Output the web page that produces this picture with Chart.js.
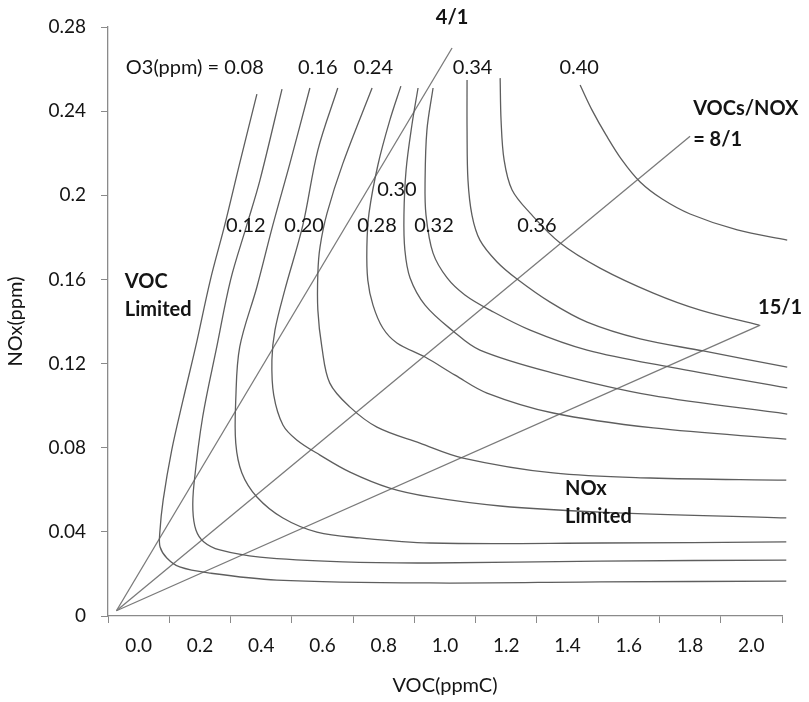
<!DOCTYPE html>
<html>
<head>
<meta charset="utf-8">
<script src="https://cdn.jsdelivr.net/npm/chart.js@4/dist/chart.umd.min.js"></script>
<style>
  html, body { margin: 0; padding: 0; background: #fff; }
  #wrap { width: 809px; height: 702px; }
</style>
</head>
<body>
<div id="wrap"><canvas id="isopleth" width="809" height="702"></canvas></div>
<script>
// axis ticks
const xTickValues = [0, 0.2, 0.4, 0.6, 0.8, 1.0, 1.2, 1.4, 1.6, 1.8, 2.0];
const xTickLabels = ['0.0','0.2','0.4','0.6','0.8','1.0','1.2','1.4','1.6','1.8','2.0'];
const yTickValues = [0, 0.04, 0.08, 0.12, 0.16, 0.2, 0.24, 0.28];
const yTickLabels = ['0','0.04','0.08','0.12','0.16','0.2','0.24','0.28'];

// ozone isopleths, points read as [VOC ppmC, NOx ppm]
const o3Levels = ['0.08','0.12','0.16','0.20','0.24','0.28','0.30','0.32','0.34','0.36','0.40'];
const iso008 = [[0.386,0.2481],[0.330,0.2153],[0.281,0.1858],[0.234,0.1597],[0.186,0.1279],[0.145,0.1027],
  [0.108,0.0789],[0.080,0.0551],[0.069,0.0395],[0.070,0.0328],[0.092,0.0276],[0.134,0.0233],[0.232,0.0204],
  [0.451,0.0171],[0.951,0.0157],[1.506,0.0162],[2.114,0.0166]];
const iso012 = [[0.468,0.2505],[0.396,0.2072],[0.353,0.1858],[0.300,0.1597],[0.255,0.1279],[0.209,0.0946],
  [0.181,0.0632],[0.177,0.0504],[0.187,0.0409],[0.213,0.0352],[0.265,0.0314],[0.396,0.0280],[0.667,0.0257],
  [0.951,0.0252],[1.506,0.0261],[2.114,0.0266]];
const iso016 = [[0.559,0.2510],[0.494,0.2153],[0.438,0.1858],[0.386,0.1564],[0.330,0.1279],[0.317,0.1027],
  [0.317,0.0822],[0.337,0.0680],[0.386,0.0566],[0.471,0.0466],[0.582,0.0399],[0.722,0.0371],[0.951,0.0347],
  [1.506,0.0347],[2.114,0.0352]];
const iso020 = [[0.650,0.2510],[0.585,0.2215],[0.536,0.1858],[0.477,0.1549],[0.445,0.1359],[0.435,0.1217],
  [0.441,0.1050],[0.471,0.0908],[0.516,0.0837],[0.592,0.0765],[0.690,0.0684],[0.820,0.0608],[0.951,0.0566],
  [1.180,0.0523],[1.506,0.0494],[2.114,0.0466]];
const iso024 = [[0.762,0.2510],[0.667,0.2153],[0.615,0.1915],[0.592,0.1754],[0.585,0.1630],[0.585,0.1454],
  [0.598,0.1279],[0.624,0.1107],[0.690,0.0993],[0.778,0.0898],[0.918,0.0822],[1.059,0.0751],[1.353,0.0680],
  [1.670,0.0656],[2.114,0.0646]];
const iso028 = [[0.856,0.2519],[0.820,0.2357],[0.781,0.2144],[0.752,0.1915],[0.745,0.1754],[0.748,0.1597],
  [0.765,0.1478],[0.797,0.1369],[0.843,0.1298],[0.935,0.1231],[1.033,0.1145],[1.137,0.1060],[1.353,0.0965],
  [1.680,0.0894],[2.114,0.0841]];
const iso030 = [[0.912,0.2510],[0.892,0.2334],[0.873,0.2120],[0.866,0.1906],[0.869,0.1740],[0.886,0.1607],
  [0.935,0.1478],[1.026,0.1355],[1.114,0.1264],[1.353,0.1155],[1.670,0.1050],[2.117,0.0960]];
const iso032 = [[0.961,0.2510],[0.941,0.2310],[0.935,0.2072],[0.938,0.1906],[0.961,0.1725],[1.007,0.1607],
  [1.065,0.1526],[1.147,0.1454],[1.278,0.1359],[1.464,0.1264],[1.735,0.1183],[2.117,0.1084]];
const iso034 = [[1.072,0.2548],[1.072,0.2310],[1.075,0.2072],[1.088,0.1906],[1.114,0.1787],[1.170,0.1683],
  [1.235,0.1602],[1.343,0.1492],[1.464,0.1397],[1.637,0.1317],[1.843,0.1260],[2.117,0.1183]];
const iso036 = [[1.180,0.2557],[1.183,0.2357],[1.193,0.2167],[1.219,0.2025],[1.278,0.1915],[1.376,0.1773],
  [1.506,0.1654],[1.680,0.1535],[1.833,0.1454],[2.025,0.1383]];
const iso040 = [[1.441,0.2524],[1.480,0.2405],[1.526,0.2286],[1.578,0.2167],[1.637,0.2063],[1.709,0.1982],
  [1.800,0.1911],[1.954,0.1835],[2.117,0.1787]];
const isopleths = [iso008, iso012, iso016, iso020, iso024, iso028, iso030, iso032, iso034, iso036, iso040];

// VOC/NOx ratio lines, from common origin to end point
const rayNames = ['4/1', '8/1', '15/1'];
const rayOrigin = [-0.0725, 0.0025];
const rayEnds = [[1.023, 0.2700], [1.800, 0.2281], [2.029, 0.1383]];

// text notes on the plot [text, x, y, align, bold]
const notes = [
  ['O3(ppm) = 0.08', -0.042, 0.2609, 'left', false],
  ['0.16', 0.585, 0.2609, 'center', false],
  ['0.24', 0.766, 0.2609, 'center', false],
  ['0.34', 1.090, 0.2609, 'center', false],
  ['0.40', 1.438, 0.2609, 'center', false],
  ['0.30', 0.843, 0.2025, 'center', false],
  ['0.12', 0.350, 0.1854, 'center', false],
  ['0.20', 0.540, 0.1854, 'center', false],
  ['0.28', 0.778, 0.1854, 'center', false],
  ['0.32', 0.964, 0.1854, 'center', false],
  ['0.36', 1.300, 0.1858, 'center', false],
  ['4/1', 1.023, 0.2847, 'center', true],
  ['VOCs/NOX', 1.810, 0.2410, 'left', true],
  ['= 8/1', 1.810, 0.2267, 'left', true],
  ['15/1', 2.022, 0.1464, 'left', true],
  ['VOC', -0.045, 0.1588, 'left', true],
  ['Limited', -0.045, 0.1459, 'left', true],
  ['NOx', 1.392, 0.0608, 'left', true],
  ['Limited', 1.392, 0.0471, 'left', true]
];

const FONT = 'Lato, "Open Sans", sans-serif';
const TXT = '#141414';
const AXIS = '#8a8a8a';

const datasets = [];
isopleths.forEach((pts, i) => {
  datasets.push({
    label: 'O3 ' + o3Levels[i],
    data: pts.map(p => ({x: p[0], y: p[1]})),
    showLine: true, pointRadius: 0, borderColor: '#5e5e5e', borderWidth: 1.3,
    tension: 0.35, clip: 8
  });
});
rayEnds.forEach((end, i) => {
  datasets.push({
    label: 'VOC/NOx ' + rayNames[i],
    data: [{x: rayOrigin[0], y: rayOrigin[1]}, {x: end[0], y: end[1]}],
    showLine: true, pointRadius: 0, borderColor: '#7a7a7a', borderWidth: 1.3,
    tension: 0, clip: 8
  });
});

const notesPlugin = {
  id: 'notes',
  afterDatasetsDraw(chart) {
    const {ctx, scales: {x, y}} = chart;
    ctx.save();
    ctx.fillStyle = TXT;
    ctx.textBaseline = 'middle';
    notes.forEach(n => {
      ctx.font = (n[4] ? 'bold ' : '') + '20px ' + FONT;
      ctx.textAlign = n[3];
      ctx.fillText(n[0], x.getPixelForValue(n[1]), y.getPixelForValue(n[2]));
    });
    ctx.restore();
  }
};

new Chart(document.getElementById('isopleth'), {
  type: 'scatter',
  data: { datasets: datasets },
  options: {
    responsive: false,
    animation: false,
    layout: { padding: { top: 27, right: 27, left: 0, bottom: 0 } },
    plugins: { legend: { display: false }, tooltip: { enabled: false } },
    scales: {
      x: {
        type: 'linear',
        min: -0.1, max: 2.1,
        afterBuildTicks: s => {
          const t = [];
          xTickValues.forEach(v => { t.push({value: v - 0.1}); t.push({value: v}); });
          t.push({value: xTickValues[xTickValues.length - 1] + 0.1});
          s.ticks = t;
        },
        afterFit: s => { s.height = 86; },
        ticks: {
          autoSkip: false, maxRotation: 0, padding: 11,
          color: TXT, font: { family: FONT, size: 19 },
          callback: (v, i) => (i % 2 === 1 ? xTickLabels[(i - 1) / 2] : '')
        },
        grid: {
          drawOnChartArea: false, tickLength: 7,
          tickColor: c => (c.index % 2 === 0 ? AXIS : 'rgba(0,0,0,0)')
        },
        border: { display: true, color: AXIS, width: 1.3 },
        title: { display: true, text: 'VOC(ppmC)', color: TXT, font: { family: FONT, size: 20 } }
      },
      y: {
        type: 'linear',
        min: 0, max: 0.28,
        afterBuildTicks: s => { s.ticks = yTickValues.map(v => ({value: v})); },
        afterFit: s => { s.width = 108; },
        ticks: {
          padding: 15, color: TXT, font: { family: FONT, size: 19 },
          callback: (v, i) => yTickLabels[i]
        },
        grid: { drawOnChartArea: false, tickLength: 7, tickColor: AXIS },
        border: { display: true, color: AXIS, width: 1.3 },
        title: { display: true, text: 'NOx(ppm)', color: TXT, font: { family: FONT, size: 20 } }
      }
    }
  },
  plugins: [notesPlugin]
});
</script>
</body>
</html>
